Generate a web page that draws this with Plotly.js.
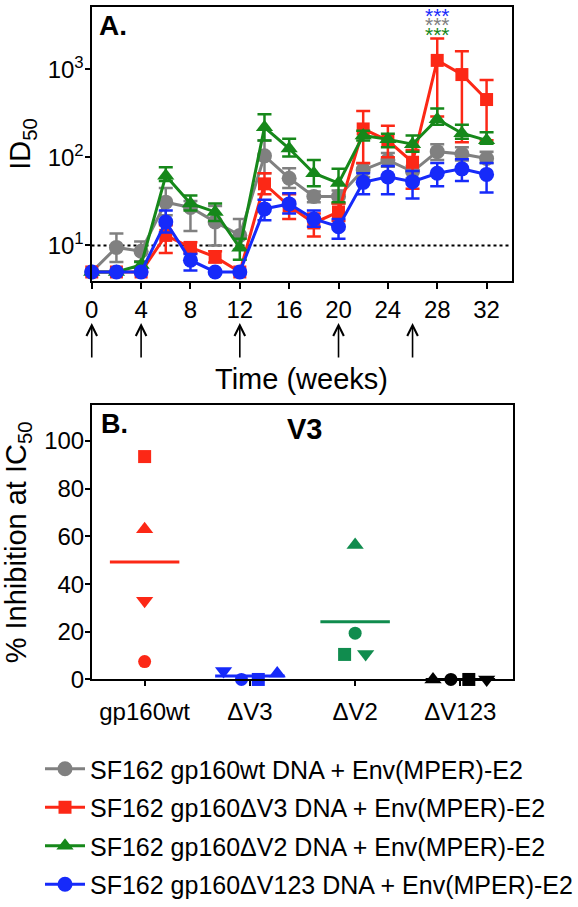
<!DOCTYPE html>
<html>
<head>
<meta charset="utf-8">
<script src="https://cdn.plot.ly/plotly-3.0.1.min.js"></script>
<style>
html,body{margin:0;padding:0;background:#fff;}
#chart{width:578px;height:907px;}
</style>
</head>
<body>
<div id="chart"></div>
<script>
// ---------------- Panel A data (ID50 over time) ----------------
const weeks = [0, 2, 4, 6, 8, 10, 12, 14, 16, 18, 20, 22, 24, 26, 28, 30, 32];

const wtMean  = [5, 9.5, 8.6, 31, 27, 18.5, 13, 104, 58, 36, 36, 72, 93, 69, 116, 109, 97];
const wtHi    = [5, 13.7, 11.1, 45, 32, 28, 20, 155, 75, 41, 42, 85, 112, 80, 141, 130, 116];
const wtLo    = [5, 6.5, 6.6, 22, 14.6, 10, 9, 66, 45, 31, 30, 60, 78, 58, 93, 92, 86];

const dV3Mean = [5, 5, 5, 13, 9.5, 7.4, 5, 50, 28, 18, 24, 210, 155, 88, 1260, 870, 453];
const dV3Hi   = [5, 5, 5, 17, 10.9, 8.6, 5, 66, 38, 23, 30, 336, 229, 121, 2234, 1600, 755];
const dV3Lo   = [5, 5, 5, 8.2, 8.2, 6.4, 5, 38, 20, 12.6, 19, 86, 100, 44, 290, 148, 156];

const dV2Mean = [5, 5, 6, 62, 30, 24, 9.4, 219, 126, 66, 51, 177, 160, 141, 271, 188, 156];
const dV2Hi   = [5, 5, 6.5, 77, 37, 30, 11.9, 308, 163, 93, 74, 200, 185, 177, 359, 235, 193];
const dV2Lo   = [5, 5, 5.5, 54, 25, 19, 6.9, 155, 102, 47, 31, 155, 130, 116, 235, 163, 143];

const dV123Mean = [5, 5, 5, 18.5, 6.8, 5, 5, 26, 29.6, 20, 16.3, 52, 60, 53, 66, 74, 64];
const dV123Hi   = [5, 5, 5, 25, 8, 5, 5, 33, 39, 25, 20, 66, 80, 70, 86, 95, 86];
const dV123Lo   = [5, 5, 5, 14, 5.2, 5, 5, 19.3, 23, 16.3, 11.9, 38, 38, 34, 47, 54, 40];

const seriesNames = [
  'SF162 gp160wt DNA + Env(MPER)-E2',
  'SF162 gp160ΔV3 DNA + Env(MPER)-E2',
  'SF162 gp160ΔV2 DNA + Env(MPER)-E2',
  'SF162 gp160ΔV123 DNA + Env(MPER)-E2'
];
const immunizationWeeks = [0, 4, 12, 20, 26];
const detectionLimit = 10;
const significanceWeek = 28;
const xTickVals = [0, 4, 8, 12, 16, 20, 24, 28, 32];
const yTickVals = [10, 100, 1000];
const yTickText = ['10<sup>1</sup>', '10<sup>2</sup>', '10<sup>3</sup>'];

// ---------------- Panel B data (% inhibition, V3) ----------------
const bCategories = ['gp160wt', 'ΔV3', 'ΔV2', 'ΔV123'];
const bCircle   = [7.5, 0, 19.4, 0];
const bSquare   = [93.5, 0, 10.5, 0];
const bTriUp    = [63, 2.5, 56.4, 0];
const bTriDown  = [33, 3.5, 10.7, 0];
const bYTicks   = [0, 20, 40, 60, 80, 100];

// ---------------- styles ----------------
const GRAY = 'rgb(128,128,128)';
const RED = 'rgb(252,40,22)';
const GREEN = 'rgb(22,136,26)';
const GREEN_B = 'rgb(16,140,78)';
const BLUE = 'rgb(22,42,250)';
const BLACK = 'rgb(0,0,0)';
const FONT = 'Liberation Sans, Arial, Helvetica, sans-serif';
const W = 578, H = 907;
const px = v => v / W;           // pixel -> paper x
const py = v => 1 - v / H;       // pixel -> paper y

function errBars(mean, hi, lo, color) {
  return {
    type: 'data', symmetric: false,
    array: hi.map((h, i) => h - mean[i]),
    arrayminus: lo.map((l, i) => mean[i] - l),
    color: color, thickness: 2.5, width: 7, visible: true
  };
}
function seriesA(name, mean, hi, lo, color, symbol, size) {
  return {
    type: 'scatter', mode: 'lines+markers', name: name,
    x: weeks, y: mean, xaxis: 'x', yaxis: 'y',
    line: {color: color, width: 3},
    marker: {color: color, symbol: symbol, size: size},
    error_y: errBars(mean, hi, lo, color),
    cliponaxis: false, legendgroup: name
  };
}

const traces = [
  seriesA(seriesNames[0], wtMean, wtHi, wtLo, GRAY, 'circle', 15),
  seriesA(seriesNames[1], dV3Mean, dV3Hi, dV3Lo, RED, 'square', 13),
  seriesA(seriesNames[2], dV2Mean, dV2Hi, dV2Lo, GREEN, 'triangle-up', 15),
  seriesA(seriesNames[3], dV123Mean, dV123Hi, dV123Lo, BLUE, 'circle', 15)
];

// Panel B
const bColors = [RED, BLUE, GREEN_B, BLACK];
const meanHalfWidth = 0.33;
const bMeans = bCategories.map((c, i) => (bCircle[i] + bSquare[i] + bTriUp[i] + bTriDown[i]) / 4);
bCategories.forEach((c, i) => {
  traces.push({
    type: 'scatter', mode: 'lines', x: [i - meanHalfWidth, i + meanHalfWidth], y: [bMeans[i], bMeans[i]],
    xaxis: 'x2', yaxis: 'y2', line: {color: bColors[i], width: 3}, showlegend: false, hoverinfo: 'skip'
  });
});
// horizontal dodge of overlapping points (layout only)
const dodge = {
  circle:   [0, -0.08, 0, -0.09],
  square:   [0, 0.08, -0.1, 0.08],
  triUp:    [0, 0.26, 0, -0.26],
  triDown:  [0, -0.25, 0.1, 0.25]
};
function seriesB(vals, symbol, size, dodgeArr) {
  return {
    type: 'scatter', mode: 'markers', xaxis: 'x2', yaxis: 'y2',
    x: bCategories.map((c, i) => i + dodgeArr[i]), y: vals,
    marker: {symbol: symbol, size: size, color: bColors},
    showlegend: false, cliponaxis: false
  };
}
traces.push(seriesB(bCircle, 'circle', 13, dodge.circle));
traces.push(seriesB(bSquare, 'square', 13, dodge.square));
traces.push(seriesB(bTriUp, 'triangle-up', 15, dodge.triUp));
traces.push(seriesB(bTriDown, 'triangle-down', 15, dodge.triDown));

// ---------------- layout ----------------
const axisCommon = {
  showline: true, mirror: true, linecolor: BLACK, linewidth: 2,
  ticks: 'outside', ticklen: 6, tickwidth: 2, tickcolor: BLACK,
  showgrid: false, zeroline: false,
  tickfont: {family: FONT, size: 24, color: BLACK}
};

const annotations = [
  {xref: 'paper', yref: 'paper', x: px(97), y: py(26), xanchor: 'left', yanchor: 'middle',
   text: '<b>A.</b>', showarrow: false, font: {family: FONT, size: 28, color: BLACK}},
  {xref: 'paper', yref: 'paper', x: px(99), y: py(433), xanchor: 'left', yanchor: 'middle',
   text: '<b>B.</b>', showarrow: false, font: {family: FONT, size: 27, color: BLACK}},
  {xref: 'paper', yref: 'paper', x: px(304), y: py(438), xanchor: 'center', yanchor: 'middle',
   text: '<b>V3</b>', showarrow: false, font: {family: FONT, size: 29, color: BLACK}}
];
// significance stars
[[BLUE, 10], [GRAY, 19.5], [GREEN, 29]].forEach(([col, yp]) => {
  annotations.push({xref: 'x', yref: 'paper', x: significanceWeek, y: py(yp + 6), xanchor: 'center', yanchor: 'middle',
    text: '***', showarrow: false, font: {family: FONT, size: 21, color: col}});
});
// immunization arrows (tip at given week, below the time axis)
immunizationWeeks.forEach(w => {
  annotations.push({xref: 'x', yref: 'paper', x: w, y: py(330), text: '', showarrow: true,
    ax: 0, ay: 36, arrowhead: 5, arrowsize: 1.3, arrowwidth: 1.6, arrowcolor: BLACK, standoff: 0, startstandoff: 0});
});

const shapes = [
  {type: 'line', xref: 'x domain', yref: 'y', x0: 0, x1: 1, y0: detectionLimit, y1: detectionLimit,
   line: {color: BLACK, width: 2, dash: 'dot'}, layer: 'below'}
];

const layout = {
  width: W, height: H,
  margin: {l: 0, r: 0, t: 0, b: 0},
  paper_bgcolor: '#fff', plot_bgcolor: '#fff',
  font: {family: FONT, color: BLACK},
  showlegend: true,
  legend: {
    x: px(43), y: py(762), xanchor: 'left', yanchor: 'top',
    font: {family: FONT, size: 25, color: BLACK},
    traceorder: 'grouped', tracegroupgap: 3, itemwidth: 40, bgcolor: 'rgba(0,0,0,0)'
  },
  xaxis: Object.assign({}, axisCommon, {
    domain: [px(91.5), px(511.5)], anchor: 'y',
    range: [-0.02, 34.02], tickvals: xTickVals,
    title: {text: 'Time (weeks)', font: {family: FONT, size: 29, color: BLACK}, standoff: 47}
  }),
  yaxis: Object.assign({}, axisCommon, {
    domain: [1 - 287 / H, 1 - 7 / H], anchor: 'x',
    type: 'log', range: [0.5967, 3.708],
    tickvals: yTickVals, ticktext: yTickText, ticklen: 5, ticklabelstandoff: -4,
    title: {text: 'ID<sub>50</sub>', font: {family: FONT, size: 29, color: BLACK}, standoff: 8}
  }),
  xaxis2: Object.assign({}, axisCommon, {
    domain: [px(92), px(513)], anchor: 'y2',
    range: [-0.5, 3.5], tickvals: [0, 1, 2, 3], ticktext: bCategories, ticklen: 5, ticklabelstandoff: 5
  }),
  yaxis2: Object.assign({}, axisCommon, {
    domain: [1 - 694 / H, 1 - 414 / H], anchor: 'x2',
    range: [0, 115], tickvals: bYTicks, ticklen: 5, ticklabelstandoff: -4,
    title: {text: '% Inhibition at IC<sub>50</sub>', font: {family: FONT, size: 29, color: BLACK}, standoff: 12}
  }),
  shapes: shapes,
  annotations: annotations
};

Plotly.newPlot('chart', traces, layout, {staticPlot: true, displayModeBar: false});
</script>
</body>
</html>
